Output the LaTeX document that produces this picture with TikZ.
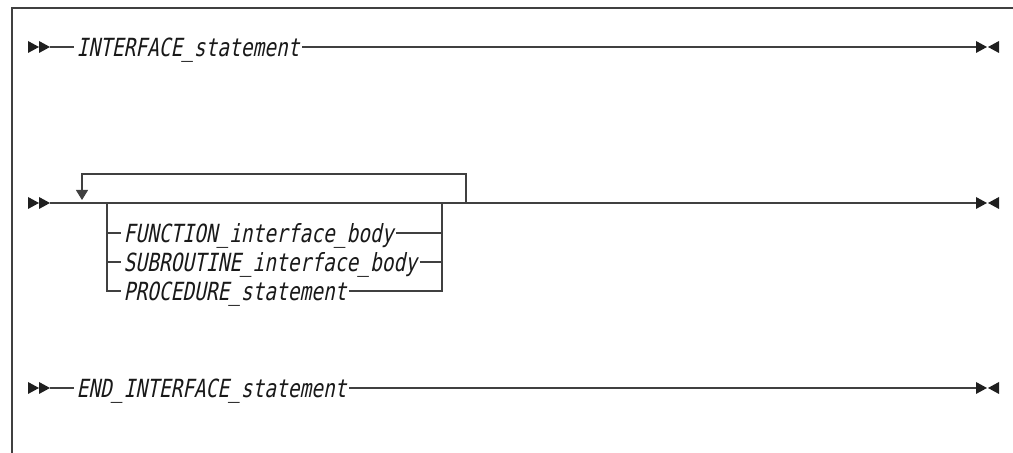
\documentclass[tikz,border=0pt]{standalone}
\usepackage{fontspec}
\newfontfamily\rrfont[FakeStretch=0.78,FakeSlant=0.2]{DejaVu Sans Mono}
\usetikzlibrary{arrows.meta,positioning,calc}

\begin{document}
\begin{tikzpicture}[x=0.5pt, y=-0.5pt, line width=0.6pt,
    rail/.style={draw=black!75},
    nt/.style={font=\rrfont\fontsize{12.5}{13}\selectfont, inner sep=1pt,
      text height=9.1pt, text depth=0pt, anchor=west, text=black!90},
    pics/startmark/.style={code={
      \fill[black!88] (0,-6) -- (11,0) -- (0,6) -- cycle;
      \fill[black!88] (11,-6) -- (22,0) -- (11,6) -- cycle;}},
    pics/endmark/.style={code={
      \fill[black!88] (0,-6) -- (11,0) -- (0,6) -- cycle;
      \fill[black!88] (23,-6) -- (12,0) -- (23,6) -- cycle;}}]
  \useasboundingbox (0,0) rectangle (1013,453);
  % frame
  \draw[rail] (12,453) -- (12,8) -- (1013,8);

  % first line
  \pic at (28,47) {startmark};
  \coordinate (r1s) at (50,47);
  \coordinate (r1e) at (976,47);
  \pic at (r1e) {endmark};
  \node[nt] (ifst) at (74,47) {INTERFACE\_statement};
  \draw[rail] (r1s) -- (ifst.west) (ifst.east) -- (r1e);

  % second line, with repeat loop
  \pic at (28,203) {startmark};
  \coordinate (r2s) at (50,203);
  \coordinate (r2e) at (976,203);
  \pic at (r2e) {endmark};
  \draw[rail] (r2s) -- (r2e);
  \draw[rail, line width=1.1pt] (472,203) -- (495,203);
  \coordinate (lpr) at (466,203);
  \coordinate (lptip) at (82,200);
  \draw[rail, -{Triangle[width=6pt,length=5pt]}] (lpr) -- ++(0,-29) -| (lptip);
  \coordinate (bl) at (107,203);
  \coordinate (br) at (442,203);
  \node[nt] (fnb) at (121,233) {FUNCTION\_interface\_body};
  \node[nt] (sbb) at (121,262) {SUBROUTINE\_interface\_body};
  \node[nt] (prs) at (121,291) {PROCEDURE\_statement};
  \draw[rail] (bl) |- (prs.west) (bl |- fnb) -- (fnb.west) (bl |- sbb) -- (sbb.west);
  \draw[rail] (br) |- (prs.east) (fnb.east) -- (br |- fnb) (sbb.east) -- (br |- sbb);

  % third line
  \pic at (28,388) {startmark};
  \coordinate (r3s) at (50,388);
  \coordinate (r3e) at (976,388);
  \pic at (r3e) {endmark};
  \node[nt] (eist) at (74,388) {END\_INTERFACE\_statement};
  \draw[rail] (r3s) -- (eist.west) (eist.east) -- (r3e);
\end{tikzpicture}
\end{document}
